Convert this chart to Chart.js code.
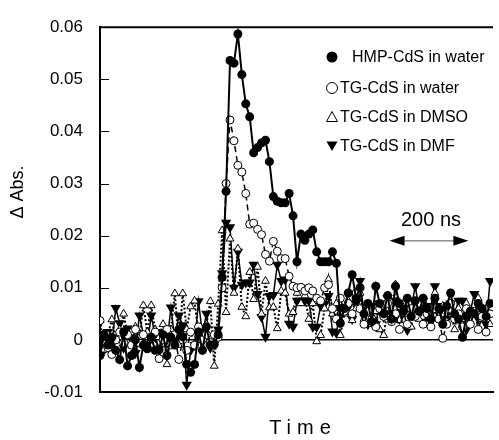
<!DOCTYPE html>
<html>
<head>
<meta charset="utf-8">
<title>Transient absorption of CdS colloids</title>
<script src="https://cdn.jsdelivr.net/npm/chart.js@4/dist/chart.umd.min.js"></script>
<style>
  html, body { margin: 0; padding: 0; background: #fff; overflow: hidden; }
  #wrap { position: relative; width: 499px; height: 440px; }
</style>
</head>
<body>
<div id="wrap"><canvas id="absChart" width="499" height="440"></canvas></div>
<script>
// sample times (oscilloscope grid, 10 ns per point)
const timeNs = Array.from({ length: 100 }, (_, i) => i * 10);

const seriesNames = ["HMP-CdS in water", "TG-CdS in water", "TG-CdS in DMSO", "TG-CdS in DMF"];
const yTickValues = [-0.01, 0, 0.01, 0.02, 0.03, 0.04, 0.05, 0.06];

// values in units of 0.001 (mΔAbs)
const hmpWater = [
  -3, 1, -1, 0.5, -2, -3.8, 1.5, -5, -3, 0,
  -5.3, -1, -1.7, 0.5, -2, -1.9, 1, -3, 0.5, -1,
  2, 0.6, -4.7, -6.2, -4.7, 1.5, -2, 2.5, -1, -0.9,
  1, 12, 28.5, 53.6, 53.1, 58.7, 50.9, 45.3, 42.8, 35.9,
  36.9, 37.8, 38.3, 34.2, 27.5, 26.6, 26.3, 26.3, 28.1, 23.8,
  15, 20.3, 19.1, 20.3, 21.1, 16.9, 15, 15, 15, 16.9,
  14.7, 3.2, 6, 9, 12.5, 8, 10, 5, 7, 3.5,
  10.3, 7, 5, 8.5, 4, 10.3, 7, 5.5, 8, 4.5,
  7.5, 5.5, 8, 6, 4, 8, 6, 3, 6.5, 9,
  5, 4, 0.5, 4.5, 5.5, 5, 7, 6, 4.5, 7
];
const tgWater = [
  3.7, 1, -1.5, -2.8, 0, 1.5, -0.5, 1, -1, 2,
  -0.6, 1, -1.5, 0.5, 1.5, -3.6, 0, 2, -1, 1,
  -3.75, 0, -2, 1.5, -1, 2.5, 0, 1, -0.5, 1,
  0.5, 10, 30, 42.2, 38.2, 33.5, 32.2, 28.1, 22.2, 22.4,
  21.2, 20.2, 16.4, 15.1, 18.9, 17, 15.6, 15.6, 12.2, 10.3,
  10, 10.1, 9.4, 10, 9.4, 8, 7.5, 10, 10.6, 6,
  4, 8, 5.5, 7, 5, 9, 6, 3, 5.5, 4,
  2.5, 6, 4.5, 7, 3.5, 5, 2, 5.5, 3, 6,
  4.5, 7, 3, 5, 2.5, 6, 4, 0.3, 3, 7,
  4, 5, 2.5, 6, 3, 5.5, 2, 4.5, 1.5, 5
];
const tgDmso = [
  3.75, -1.9, 1, 3.9, 0, 2, 5, 1, -0.5, 2.5,
  0.5, 6.6, 1.5, 6.6, 2, 0.5, 3, -4.7, 2, 8.9,
  -1, 8.9, 2, 6.4, 7.5, 1, -1.5, 3, 7.4, -5,
  6.9, 21, 5.3, 19.4, 9, 17.5, 6.3, 4.5, 13, 7.8,
  14, 5, 11.3, 6.2, 6.3, 2.2, 9.4, 9, 5, 5.3,
  9, 7, 8.5, 4, 7, -0.3, 0.9, 6, 11.6, 5,
  7, 0.9, 5, 7.5, 3.75, 6, 9, 4, 6.5, 3,
  5.5, 2, 0.9, 6, 4.5, 10.6, 3.75, 7, 5, 2.5,
  6, 4, 7.5, 3, 6, 9, 4.5, 6.5, 3.5, 5.5,
  2, 6, 4, 7, 3.5, 5, 8, 4, 6, 3
];
const tgDmf = [
  0.6, -2, 1.5, -1, 6.1, 3.2, -1.5, 2.2, 0.5, -2.5,
  4.7, 1, -1, 4.7, 0.5, -1.7, 1.5, -0.5, 6.2, 0,
  4.7, 2.8, -8.6, -2, -1, 7.4, 1, 5, -1.5, -0.9,
  2, 12.8, 22.5, 21.6, 10, 16.9, 10.6, 11, 11, 14.4,
  8.8, 4.4, 0.6, 8.4, 8.6, 14.4, 11.3, 11.6, 3.1, 2.5,
  7.5, 7.5, 7.5, 7.5, 2.5, 2.5, 6.6, 6.9, 8.4, 1.6,
  1.3, 5.9, 6.3, 6.3, 4, 7, 11.3, 5, 3, 6.5,
  3, 7, 4.4, 8, 5, 7.5, 4, 6, 1.9, 6,
  10.3, 6, 7.5, 3.5, 6.5, 10.3, 5, 6.5, 4, 7,
  5, 7.5, 7.5, 2, 5.5, 8.8, 4, 6, 3, 11.3
];

const FONT = "'Liberation Sans', Arial, Helvetica, sans-serif";

function toPoints(values) {
  return values.map((v, i) => ({ x: timeNs[i], y: v / 1000 }));
}

function drawMarker(ctx, kind, x, y) {
  ctx.save();
  ctx.lineWidth = 1;
  ctx.strokeStyle = "#000";
  ctx.fillStyle = "#000";
  ctx.beginPath();
  if (kind === "dot" || kind === "ring") {
    ctx.arc(x, y, 5.5, 0, Math.PI * 2);
  } else if (kind === "tri") {
    ctx.moveTo(x, y - 5.5);
    ctx.lineTo(x + 5.5, y + 4.5);
    ctx.lineTo(x - 5.5, y + 4.5);
    ctx.closePath();
  } else {
    ctx.moveTo(x - 5.5, y - 4.5);
    ctx.lineTo(x + 5.5, y - 4.5);
    ctx.lineTo(x, y + 5);
    ctx.closePath();
  }
  if (kind === "dot" || kind === "tridown") ctx.fill();
  else ctx.stroke();
  ctx.restore();
}

const framePlugin = {
  id: "frame",
  afterDraw(chart) {
    const { ctx, chartArea: a, scales } = chart;
    const x = scales.x;
    const y = scales.y;
    ctx.save();

    // top border
    ctx.strokeStyle = "#000";
    ctx.lineWidth = 2;
    ctx.beginPath();
    ctx.moveTo(a.left, a.top);
    ctx.lineTo(a.right, a.top);
    ctx.stroke();

    // inward tick marks
    ctx.lineWidth = 1;
    yTickValues.forEach((v) => {
      const py = Math.round(y.getPixelForValue(v)) + 0.5;
      ctx.beginPath();
      ctx.moveTo(a.left, py);
      ctx.lineTo(a.left + 9, py);
      ctx.stroke();
    });

    // axis titles
    ctx.fillStyle = "#000";
    ctx.textAlign = "center";
    ctx.textBaseline = "middle";
    ctx.font = "20px " + FONT;
    ctx.letterSpacing = "6px";
    ctx.fillText("Time", 303, 428);
    ctx.letterSpacing = "0px";

    ctx.save();
    ctx.translate(18, 192);
    ctx.rotate(-Math.PI / 2);
    ctx.font = "18px " + FONT;
    ctx.fillText("Δ Abs.", 0, 0);
    ctx.restore();

    // 200 ns scale bar
    const x0 = x.getPixelForValue(735);
    const x1 = x.getPixelForValue(935);
    const ay = y.getPixelForValue(0.019);
    ctx.strokeStyle = "#555";
    ctx.lineWidth = 1;
    ctx.beginPath();
    ctx.moveTo(x0 + 10, ay);
    ctx.lineTo(x1 - 10, ay);
    ctx.stroke();
    ctx.fillStyle = "#000";
    ctx.beginPath();
    ctx.moveTo(x0, ay);
    ctx.lineTo(x0 + 15, ay - 5);
    ctx.lineTo(x0 + 15, ay + 5);
    ctx.closePath();
    ctx.fill();
    ctx.beginPath();
    ctx.moveTo(x1, ay);
    ctx.lineTo(x1 - 15, ay - 5);
    ctx.lineTo(x1 - 15, ay + 5);
    ctx.closePath();
    ctx.fill();
    ctx.font = "20px " + FONT;
    ctx.fillText("200 ns", (x0 + x1) / 2 + 2, y.getPixelForValue(0.023));

    // legend
    const kinds = ["dot", "ring", "tri", "tridown"];
    const rows = [57, 88, 117, 146];
    ctx.font = "16px " + FONT;
    ctx.textAlign = "left";
    seriesNames.forEach((name, i) => {
      drawMarker(ctx, kinds[i], 332, rows[i]);
      ctx.fillStyle = "#000";
      ctx.fillText(name, i === 0 ? 352 : 340, rows[i] + 1);
    });

    ctx.restore();
  },
};

const ctx = document.getElementById("absChart").getContext("2d");
new Chart(ctx, {
  type: "line",
  data: {
    datasets: [
      {
        label: seriesNames[0],
        data: toPoints(hmpWater),
        borderColor: "#000",
        borderWidth: 2,
        pointStyle: "circle",
        pointRadius: 4.5,
        pointBackgroundColor: "#000",
        pointBorderColor: "#000",
        pointBorderWidth: 0,
      },
      {
        label: seriesNames[1],
        data: toPoints(tgWater),
        borderColor: "#000",
        borderWidth: 1.5,
        borderDash: [6, 4],
        pointStyle: "circle",
        pointRadius: 4,
        pointBackgroundColor: "#fff",
        pointBorderColor: "#000",
        pointBorderWidth: 1,
      },
      {
        label: seriesNames[2],
        data: toPoints(tgDmso),
        borderColor: "#000",
        borderWidth: 2,
        borderDash: [2, 2],
        pointStyle: "triangle",
        pointRadius: 4.5,
        pointBackgroundColor: "#fff",
        pointBorderColor: "#000",
        pointBorderWidth: 1,
      },
      {
        label: seriesNames[3],
        data: toPoints(tgDmf),
        borderColor: "#000",
        borderWidth: 1.5,
        pointStyle: "triangle",
        pointRotation: 180,
        pointRadius: 6,
        pointBackgroundColor: "#000",
        pointBorderColor: "#000",
        pointBorderWidth: 0,
      },
    ],
  },
  options: {
    responsive: false,
    animation: false,
    layout: { padding: { top: 20, right: 0, bottom: 0, left: 0 } },
    plugins: {
      legend: { display: false },
      tooltip: { enabled: false },
    },
    scales: {
      x: {
        type: "linear",
        min: 0,
        max: 997.5,
        ticks: { display: false },
        grid: { display: true, color: "transparent", drawTicks: false },
        border: { display: true, color: "#000", width: 2 },
        afterFit: (scale) => { scale.height = 48; },
      },
      y: {
        min: -0.01,
        max: 0.06,
        afterBuildTicks: (scale) => {
          scale.ticks = yTickValues.map((v) => ({ value: v }));
        },
        afterFit: (scale) => { scale.width = 100; },
        ticks: {
          color: "#000",
          padding: 17,
          font: { family: FONT, size: 17 },
          callback: (v) => String(Number(v.toFixed(2))),
        },
        grid: {
          drawTicks: false,
          lineWidth: 1.5,
          color: (c) => (c.tick && c.tick.value === 0 ? "#000" : "transparent"),
        },
        border: { display: true, color: "#000", width: 2 },
      },
    },
  },
  plugins: [framePlugin],
});
</script>
</body>
</html>
